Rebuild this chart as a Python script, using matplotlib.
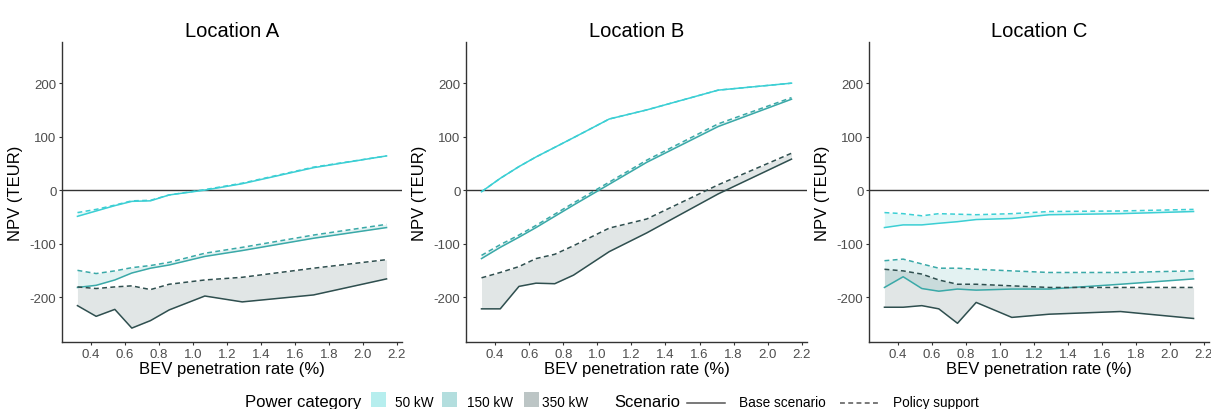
import numpy as np
import matplotlib
matplotlib.use("Agg")
import matplotlib.pyplot as plt
from matplotlib.patches import Rectangle
from matplotlib.lines import Line2D

plt.rcParams["font.family"] = ["Liberation Sans", "DejaVu Sans"]
plt.rcParams["axes.unicode_minus"] = False

# BEV penetration rate (%) at which each scenario was evaluated
penetration = [0.32, 0.43, 0.54, 0.64, 0.75, 0.86, 1.07, 1.29, 1.71, 2.14]

locations = ["Location A", "Location B", "Location C"]
power_categories = ["50 kW", "150 kW", "350 kW"]
scenarios = ["Base scenario", "Policy support"]

# NPV (TEUR) — Location A
a_50_base = [-49, -39, -29, -21, -20, -9, 0, 12, 42, 64]
a_50_policy = [-42, -36, -28, -20, -19, -9, 1, 13, 43, 64]
a_150_base = [-182, -178, -168, -155, -146, -140, -124, -113, -90, -70]
a_150_policy = [-150, -156, -151, -145, -141, -135, -118, -107, -84, -64]
a_350_base = [-216, -236, -223, -258, -244, -224, -198, -209, -196, -166]
a_350_policy = [-181, -184, -181, -179, -186, -176, -168, -163, -146, -130]

# NPV (TEUR) — Location B
b_50_base = [-3, 22, 44, 62, 80, 98, 133, 150, 187, 200]
b_50_policy = [-3, 22, 44, 62, 80, 98, 133, 150, 187, 200]
b_150_base = [-128, -107, -88, -70, -49, -28, 11, 52, 119, 170]
b_150_policy = [-122, -102, -84, -66, -45, -24, 15, 56, 124, 173]
b_350_base = [-222, -222, -180, -174, -175, -159, -115, -80, -7, 58]
b_350_policy = [-164, -154, -143, -128, -120, -104, -71, -54, 10, 69]

# NPV (TEUR) — Location C
c_50_base = [-70, -65, -65, -62, -59, -55, -53, -46, -44, -40]
c_50_policy = [-42, -44, -48, -44, -45, -46, -44, -40, -39, -36]
c_150_base = [-182, -162, -184, -189, -185, -187, -185, -185, -176, -166]
c_150_policy = [-132, -129, -138, -146, -146, -148, -151, -154, -154, -151]
c_350_base = [-219, -219, -216, -222, -249, -210, -238, -232, -227, -240]
c_350_policy = [-148, -151, -157, -168, -176, -176, -179, -182, -182, -182]

x_ticks = [0.4, 0.6, 0.8, 1.0, 1.2, 1.4, 1.6, 1.8, 2.0, 2.2]
y_ticks = [-200, -100, 0, 100, 200]

npv = {
    "Location A": {"50 kW": (a_50_base, a_50_policy),
                   "150 kW": (a_150_base, a_150_policy),
                   "350 kW": (a_350_base, a_350_policy)},
    "Location B": {"50 kW": (b_50_base, b_50_policy),
                   "150 kW": (b_150_base, b_150_policy),
                   "350 kW": (b_350_base, b_350_policy)},
    "Location C": {"50 kW": (c_50_base, c_50_policy),
                   "150 kW": (c_150_base, c_150_policy),
                   "350 kW": (c_350_base, c_350_policy)},
}

line_colors = {"50 kW": "#3ccfd4", "150 kW": "#3aa9a8", "350 kW": "#2f4f4f"}
key_colors = {"50 kW": "#b6eeee", "150 kW": "#b3dede", "350 kW": "#bcc5c5"}
dash = (0, (3.2, 2.2))

W, H = 1211, 410
fig = plt.figure(figsize=(W / 100, H / 100), dpi=100)


def fx(px):
    return px / W


def fy(py):
    return 1 - py / H


panel_cols = [(62, 402), (466, 807), (869, 1209)]
top_px, bottom_px = 43, 343

for loc, (left_px, right_px) in zip(locations, panel_cols):
    ax = fig.add_axes([fx(left_px), fy(bottom_px),
                       (right_px - left_px) / W, (bottom_px - top_px) / H])
    for cat in power_categories:
        base, policy = npv[loc][cat]
        col = line_colors[cat]
        ax.fill_between(penetration, base, policy, color=col, alpha=0.14,
                        linewidth=0, zorder=2)
        ax.plot(penetration, base, color=col, lw=1.1, zorder=3)
        ax.plot(penetration, policy, color=col, lw=1.1, ls=dash, zorder=3)
    ax.axhline(0, color="#333333", lw=1.0, zorder=1)

    ax.set_xlim(0.229, 2.231)
    ax.set_ylim(-284, 277)
    ax.set_xticks(x_ticks)
    ax.set_xticklabels([f"{v:.1f}" for v in x_ticks])
    ax.set_yticks(y_ticks)
    ax.set_yticklabels([str(v) for v in y_ticks])
    for side in ("top", "right"):
        ax.spines[side].set_visible(False)
    for side in ("left", "bottom"):
        ax.spines[side].set_color("#333333")
        ax.spines[side].set_linewidth(1.0)
    ax.tick_params(direction="out", length=2.5, width=0.8, color="#333333",
                   labelcolor="#4d4d4d", labelsize=9.5, pad=1.5)
    ax.set_title(loc, fontsize=14.5, pad=4)
    ax.set_xlabel("BEV penetration rate (%)", fontsize=12, labelpad=1)
    ax.set_ylabel("NPV (TEUR)", fontsize=12, labelpad=5)

# Legend row along the bottom edge
baseline = 406.7
fig.text(fx(245), fy(baseline), "Power category", fontsize=12, va="baseline")
for cat, key_left, label_left in zip(power_categories, [371, 442, 524],
                                     [395, 466.5, 542]):
    fig.add_artist(Rectangle((fx(key_left), fy(408)), 14.5 / W, 15 / H,
                             transform=fig.transFigure,
                             facecolor=key_colors[cat], edgecolor="none"))
    fig.text(fx(label_left), fy(baseline), cat, fontsize=9.8, va="baseline")

fig.text(fx(614), fy(baseline), "Scenario", fontsize=12, va="baseline")
for scen, (x0, x1), label_left, ls in zip(scenarios, [(687, 725), (840, 880)],
                                          [739, 893], ["-", dash]):
    fig.add_artist(Line2D([fx(x0), fx(x1)], [fy(403.5), fy(403.5)],
                          transform=fig.transFigure, color="#555555",
                          lw=1.1, ls=ls))
    fig.text(fx(label_left), fy(baseline), scen, fontsize=9.8, va="baseline")

fig.savefig("out.png", dpi=100)
